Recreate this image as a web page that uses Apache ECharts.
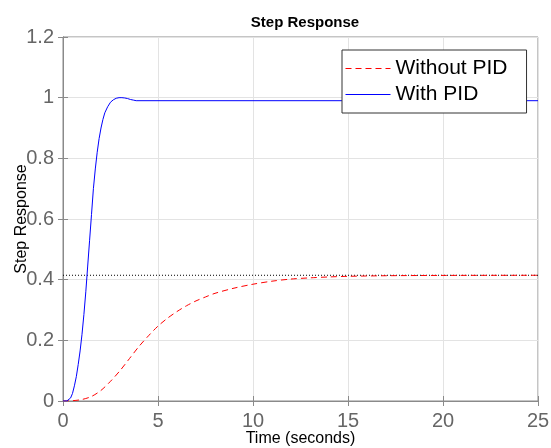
<!DOCTYPE html>
<html>
<head>
<meta charset="utf-8">
<script src="https://cdn.jsdelivr.net/npm/echarts@6/dist/echarts.min.js"></script>
<style>
  html, body { margin: 0; padding: 0; background: #fff; }
  #chart { width: 551px; height: 448px; }
</style>
</head>
<body>
<div id="chart"></div>
<script>
// step response without controller (time, value)
const withoutPidT = [0, 0.5, 1, 1.5, 2, 2.5, 3, 3.5, 4, 4.5, 5, 5.5, 6, 6.5, 7, 7.5, 8, 9, 10, 11, 12, 13, 14, 15, 17, 20, 25];
const withoutPidY = [0, 0.001, 0.005, 0.015, 0.035, 0.065, 0.1, 0.14, 0.18, 0.215, 0.247, 0.273, 0.295, 0.314, 0.33, 0.343, 0.355, 0.372, 0.385, 0.395, 0.402, 0.406, 0.409, 0.411, 0.413, 0.414, 0.4145];

// step response with PID
const withPidT = [0, 0.2, 0.3, 0.4, 0.5, 0.6, 0.7, 0.8, 0.9, 1.0, 1.1, 1.2, 1.3, 1.4, 1.5, 1.6, 1.7, 1.8, 1.9, 2.0, 2.1, 2.2, 2.35, 2.5, 2.65, 2.8, 2.95, 3.1, 3.25, 3.4, 3.55, 3.7, 3.85, 4.0, 10, 25];
const withPidY = [0, 0, 0.003, 0.01, 0.025, 0.05, 0.08, 0.12, 0.165, 0.22, 0.285, 0.36, 0.445, 0.53, 0.615, 0.7, 0.765, 0.82, 0.865, 0.9, 0.928, 0.95, 0.97, 0.985, 0.993, 0.998, 1.0, 1.0, 0.999, 0.997, 0.994, 0.992, 0.99, 0.99, 0.99, 0.99];

// steady state of the open loop response
const steadyT = [0, 25];
const steadyY = [0.4145, 0.4145];

const zip = (xs, ys) => xs.map((x, i) => [x, ys[i]]);

const chart = echarts.init(document.getElementById("chart"));
const font = "Liberation Sans";
const axisGrey = "#8a8a8a";

const option = {
  animation: false,
  textStyle: { fontFamily: font },
  title: {
    text: "Step Response",
    left: 300,
    textAlign: "center",
    top: 10,
    textStyle: { fontSize: 15, fontWeight: "bold", color: "#000", fontFamily: font },
  },
  grid: {
    left: 63,
    right: 13,
    top: 37,
    bottom: 47,
    outerBoundsMode: "none",
    containLabel: false,
    show: true,
    borderColor: axisGrey,
    borderWidth: 1,
  },
  legend: {
    data: ["Without PID", "With PID"],
    orient: "vertical",
    left: 342,
    top: 50,
    padding: [8, 19, 8, 3],
    itemGap: 5,
    itemWidth: 45,
    itemHeight: 14,
    itemStyle: { opacity: 0 },
    lineStyle: { width: 1 },
    backgroundColor: "#fff",
    borderColor: "#333",
    borderWidth: 1,
    borderRadius: 0,
    textStyle: { fontSize: 21, color: "#000", fontFamily: font },
  },
  xAxis: [
    {
      type: "value",
      min: 0,
      max: 25,
      interval: 5,
      name: "Time (seconds)",
      nameLocation: "middle",
      nameGap: 30,
      nameMoveOverlap: false,
      nameTextStyle: { fontSize: 16, color: "#000" },
      axisLine: { show: true, lineStyle: { color: axisGrey } },
      axisTick: { show: true, inside: true, length: 5, lineStyle: { color: axisGrey } },
      axisLabel: { fontSize: 20, color: "#666", margin: 10 },
      splitLine: { show: true, lineStyle: { color: "#e3e3e3" } },
    },
    {
      type: "value",
      position: "top",
      min: 0,
      max: 25,
      interval: 5,
      axisLine: { show: true, lineStyle: { color: axisGrey } },
      axisTick: { show: true, inside: true, length: 5, lineStyle: { color: axisGrey } },
      axisLabel: { show: false },
      splitLine: { show: false },
    },
  ],
  yAxis: [
    {
      type: "value",
      min: 0,
      max: 1.2,
      interval: 0.2,
      name: "Step Response",
      nameLocation: "middle",
      nameGap: 33,
      nameMoveOverlap: false,
      nameTextStyle: { fontSize: 16, color: "#000" },
      axisLine: { show: true, lineStyle: { color: axisGrey } },
      axisTick: { show: true, inside: true, length: 5, lineStyle: { color: axisGrey } },
      axisLabel: { fontSize: 20, color: "#666", margin: 9 },
      splitLine: { show: true, lineStyle: { color: "#e3e3e3" } },
    },
    {
      type: "value",
      position: "right",
      min: 0,
      max: 1.2,
      interval: 0.2,
      axisLine: { show: true, lineStyle: { color: axisGrey } },
      axisTick: { show: true, inside: true, length: 5, lineStyle: { color: axisGrey } },
      axisLabel: { show: false },
      splitLine: { show: false },
    },
  ],
  series: [
    {
      name: "steady",
      type: "line",
      data: zip(steadyT, steadyY),
      symbol: "none",
      silent: true,
      lineStyle: { color: "#000", width: 1, type: [1, 2] },
    },
    {
      name: "Without PID",
      type: "line",
      data: zip(withoutPidT, withoutPidY),
      symbol: "none",
      smooth: 0.3,
      color: "#ff0000",
      lineStyle: { color: "#ff0000", width: 1, type: [6, 4] },
    },
    {
      name: "With PID",
      type: "line",
      data: zip(withPidT, withPidY),
      symbol: "none",
      color: "#0000ff",
      lineStyle: { color: "#0000ff", width: 1 },
    },
  ],
};

chart.setOption(option);
</script>
</body>
</html>
